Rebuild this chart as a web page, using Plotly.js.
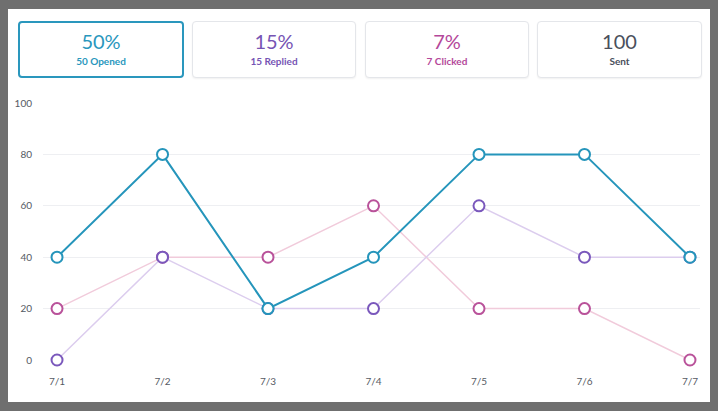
<!DOCTYPE html>
<html><head><meta charset="utf-8">
<script src="https://cdn.plot.ly/plotly-3.0.1.min.js"></script>
<style>
html,body{margin:0;padding:0;width:718px;height:411px;overflow:hidden;background:#6f6f6f;font-family:Lato,"Open Sans",sans-serif;}
#panel{position:absolute;left:8px;top:9px;width:702px;height:393px;background:#fff;}
.card{position:absolute;top:21px;height:57px;box-sizing:border-box;border:1px solid #e4e6ea;border-radius:4px;background:#fff;text-align:center;box-shadow:0 1px 2px rgba(0,0,0,0.06);}
.card .big{position:absolute;left:0;right:0;font-size:20px;line-height:24px;}
.card .sub{position:absolute;left:0;right:0;font-size:10px;line-height:12px;font-weight:bold;}
#chart{position:absolute;left:0;top:0;width:718px;height:411px;}
</style></head>
<body>
<div id="panel"></div>
<div id="cards"></div>
<div id="chart"></div>
<script>
const dates = ["7/1","7/2","7/3","7/4","7/5","7/6","7/7"];
const opened = [40,80,20,40,80,80,40];
const replied = [0,40,20,20,60,40,40];
const clicked = [20,40,40,60,20,20,0];
const cardBig = ["50%","15%","7%","100"];
const cardSub = ["50 Opened","15 Replied","7 Clicked","Sent"];

const cardColors = ["#2a97bd","#7654b4","#b4479a","#4a505c"];
const cardX = [[18,184],[192,356],[365,529],[537,702]];
const cardsDiv = document.getElementById('cards');
cardBig.forEach((b,i)=>{
  const d = document.createElement('div');
  d.className='card';
  d.style.left=cardX[i][0]+'px';
  d.style.width=(cardX[i][1]-cardX[i][0])+'px';
  if(i===0){d.style.border='2px solid #2a97bd';d.style.boxShadow='none';}
  const off = i===0?1:0;
  d.innerHTML='<div class="big" style="color:'+cardColors[i]+';top:'+(7-off)+'px">'+b+'</div><div class="sub" style="color:'+cardColors[i]+';top:'+(33-off)+'px">'+cardSub[i]+'</div>';
  cardsDiv.appendChild(d);
});

function series(y, lineColor, lineWidth, markerColor){
  return {x:dates, y:y, type:'scatter', mode:'lines+markers', cliponaxis:false,
    line:{color:lineColor, width:lineWidth},
    marker:{symbol:'circle', size:11, color:'#ffffff', line:{color:markerColor, width:2}},
    hoverinfo:'none'};
}
const data = [
  series(clicked, '#f1cbdb', 1.5, '#b9529a'),
  series(replied, '#dccdee', 1.5, '#7a58bc'),
  series(opened, '#2595bb', 2, '#2595bb')
];
const layout = {
  width:718, height:411,
  margin:{l:43, r:18, t:103, b:51, pad:0},
  paper_bgcolor:'rgba(0,0,0,0)', plot_bgcolor:'rgba(0,0,0,0)',
  showlegend:false,
  font:{family:'Lato, "Open Sans", sans-serif', size:10, color:'#555a63'},
  xaxis:{type:'category', range:[-0.133,6.095], showgrid:false, zeroline:false, showline:false,
    ticks:'', ticklabelstandoff:14, tickfont:{size:10, color:'#555a63'}, fixedrange:true},
  yaxis:{range:[0,100], tickvals:[0,20,40,60,80,100], showgrid:true, gridcolor:'#eeeff2', gridwidth:1,
    zeroline:false, showline:false, ticks:'', ticklabelstandoff:10, tickfont:{size:10, color:'#555a63'}, fixedrange:true}
};
Plotly.newPlot('chart', data, layout, {displayModeBar:false, staticPlot:true});
</script>
</body></html>
